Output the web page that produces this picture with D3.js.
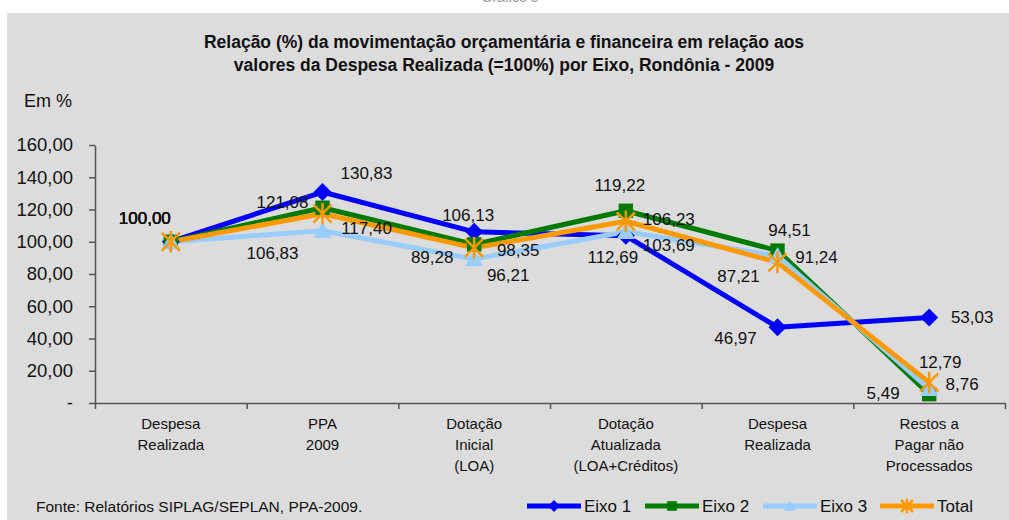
<!DOCTYPE html>
<html>
<head>
<meta charset="utf-8">
<script src="https://cdn.jsdelivr.net/npm/d3@7"></script>
<style>
  body { margin: 0; background: #fff; }
  svg { display: block; font-family: "Liberation Sans", Arial, sans-serif; }
</style>
</head>
<body>
<div id="canvas"></div>
<script>
// DATA
const categories = [
  ["Despesa", "Realizada"],
  ["PPA", "2009"],
  ["Dotação", "Inicial", "(LOA)"],
  ["Dotação", "Atualizada", "(LOA+Créditos)"],
  ["Despesa", "Realizada"],
  ["Restos a", "Pagar não", "Processados"]
];
const seriesNames = ["Eixo 1", "Eixo 2", "Eixo 3", "Total"];
const eixo1 = [100.00, 130.83, 106.13, 103.69, 46.97, 53.03];
const eixo2 = [100.00, 121.08, 98.35, 119.22, 94.51, 5.49];
const eixo3 = [100.00, 106.83, 89.28, 106.23, 91.24, 8.76];
const total = [100.00, 117.40, 96.21, 112.69, 87.21, 12.79];
const yTicks = [0, 20, 40, 60, 80, 100, 120, 140, 160];

// label placement (dx, dy from the point), hand tuned like the excel original
const labelOffsets = [
  [[-26, -24], [44, -19], [-6, -17], [43, 9], [-42, 11], [43, 0]],
  [[-26, -24], [-40, -6], [44, 6], [-6, -26], [12, -21], [-46, -1]],
  [[-26, -24], [-50, 22], [-42, -2], [43, -13], [39, 1], [33, -5]],
  [[-26, -24], [44, 14], [34, 27], [-13, 36], [-39, 14], [11, -20]]
];

const colors = ["#0000FF", "#007A00", "#99CCFF", "#FF9900"];
const markers = ["diamond", "square", "triangle", "star"];

// DIMENSIONS
const width = 1009, height = 520;
const plot = { left: 95, right: 1005, top: 145, bottom: 403 };

const svg = d3.select("#canvas").append("svg")
  .attr("width", width).attr("height", height);

// panel
svg.append("rect").attr("x", 7).attr("y", 13)
  .attr("width", width - 7).attr("height", height - 13)
  .attr("fill", "#DCDCDC");

svg.append("text").attr("x", 510).attr("y", 2)
  .attr("text-anchor", "middle").attr("font-size", 14).attr("fill", "#999")
  .text("Gráfico 5");

// TITLE
const title = svg.append("text").attr("text-anchor", "middle")
  .attr("font-size", 17.5).attr("font-weight", "bold").attr("fill", "#111");
title.append("tspan").attr("x", 504).attr("y", 48)
  .text("Relação (%) da movimentação orçamentária e financeira em relação aos");
title.append("tspan").attr("x", 504).attr("y", 71)
  .text("valores da Despesa Realizada (=100%) por Eixo, Rondônia - 2009");

svg.append("text").attr("x", 24).attr("y", 107).attr("font-size", 18)
  .attr("fill", "#111").text("Em %");

// SCALES
const x = d3.scaleBand(d3.range(categories.length), [plot.left, plot.right]);
const xEdge = d3.scaleLinear([0, categories.length], [plot.left, plot.right]);
const y = d3.scaleLinear([0, 160], [plot.bottom, plot.top]);

const pt = d3.formatLocale({ decimal: ",", thousands: ".", grouping: [3], currency: ["R$", ""] });
const fmt = pt.format(",.2f");

// AXES
const yAxis = svg.append("g").attr("transform", `translate(${plot.left},0)`)
  .call(d3.axisLeft(y).tickValues(yTicks).tickSize(6).tickSizeOuter(0).tickPadding(16)
    .tickFormat(d => d === 0 ? "-" : fmt(d)));
yAxis.selectAll("text").attr("font-size", 18.5).attr("fill", "#111")
  .attr("font-family", "Liberation Sans, Arial, sans-serif");

const xAxis = svg.append("g").attr("transform", `translate(0,${plot.bottom})`)
  .call(d3.axisBottom(xEdge).tickValues(d3.range(categories.length + 1))
    .tickSize(6).tickSizeOuter(0).tickFormat(""));

svg.selectAll(".domain, .tick line").attr("stroke", "#555").attr("stroke-width", 1.5);

// category labels
const catLabels = svg.append("g").selectAll("text").data(categories).join("text")
  .attr("text-anchor", "middle").attr("font-size", 15).attr("fill", "#111");
catLabels.selectAll("tspan").data((d, i) => d.map(l => ({ l, i }))).join("tspan")
  .attr("x", d => x(d.i) + x.bandwidth() / 2)
  .attr("y", (d, j) => 429 + j * 21)
  .text(d => d.l);

// MARKERS
function drawMarker(g, type, color, s) {
  if (type === "diamond") {
    g.append("path").attr("d", `M0,${-s}L${s},0L0,${s}L${-s},0Z`).attr("fill", color);
  } else if (type === "square") {
    g.append("rect").attr("x", -s * 0.8).attr("y", -s * 0.8)
      .attr("width", s * 1.6).attr("height", s * 1.6).attr("fill", color);
  } else if (type === "triangle") {
    g.append("path").attr("d", `M0,${-s}L${s},${s * 0.8}L${-s},${s * 0.8}Z`).attr("fill", color);
  } else {
    const r = s;
    g.append("path")
      .attr("d", `M${-r},${-r}L${r},${r}M${-r},${r}L${r},${-r}M0,${-r * 1.2}L0,${r * 1.2}`)
      .attr("stroke", color).attr("stroke-width", 2.5).attr("fill", "none");
  }
}

// LINES
const allSeries = [eixo1, eixo2, eixo3, total];
const line = d3.line().x((d, i) => x(i) + x.bandwidth() / 2).y(d => y(d));

allSeries.forEach((vals, s) => {
  svg.append("path").datum(vals).attr("d", line)
    .attr("fill", "none").attr("stroke", colors[s]).attr("stroke-width", 5)
    .attr("stroke-linejoin", "round");
});
allSeries.forEach((vals, s) => {
  vals.forEach((v, i) => {
    const g = svg.append("g")
      .attr("transform", `translate(${x(i) + x.bandwidth() / 2},${y(v)})`);
    drawMarker(g, markers[s], colors[s], 9);
  });
});

// DATA LABELS
allSeries.forEach((vals, s) => {
  svg.append("g").selectAll("text").data(vals).join("text")
    .attr("x", (d, i) => x(i) + x.bandwidth() / 2 + labelOffsets[s][i][0])
    .attr("y", (d, i) => y(d) + labelOffsets[s][i][1] + 6)
    .attr("text-anchor", "middle").attr("font-size", 17).attr("fill", "#111")
    .text(d => fmt(d));
});

// FOOTER
svg.append("text").attr("x", 36).attr("y", 512).attr("font-size", 15.5)
  .attr("fill", "#111").text("Fonte: Relatórios SIPLAG/SEPLAN, PPA-2009.");

// LEGEND
const legendX = [527, 645, 763, 880];
const legend = svg.append("g").selectAll("g").data(seriesNames).join("g")
  .attr("transform", (d, i) => `translate(${legendX[i]},506)`);
legend.append("line").attr("x1", 0).attr("x2", 54)
  .attr("stroke", (d, i) => colors[i]).attr("stroke-width", 5);
legend.each(function (d, i) {
  const m = d3.select(this).append("g").attr("transform", "translate(27,0)");
  drawMarker(m, markers[i], colors[i], 6);
});
legend.append("text").attr("x", 57).attr("y", 6).attr("font-size", 17)
  .attr("fill", "#111").text(d => d);
</script>
</body>
</html>
